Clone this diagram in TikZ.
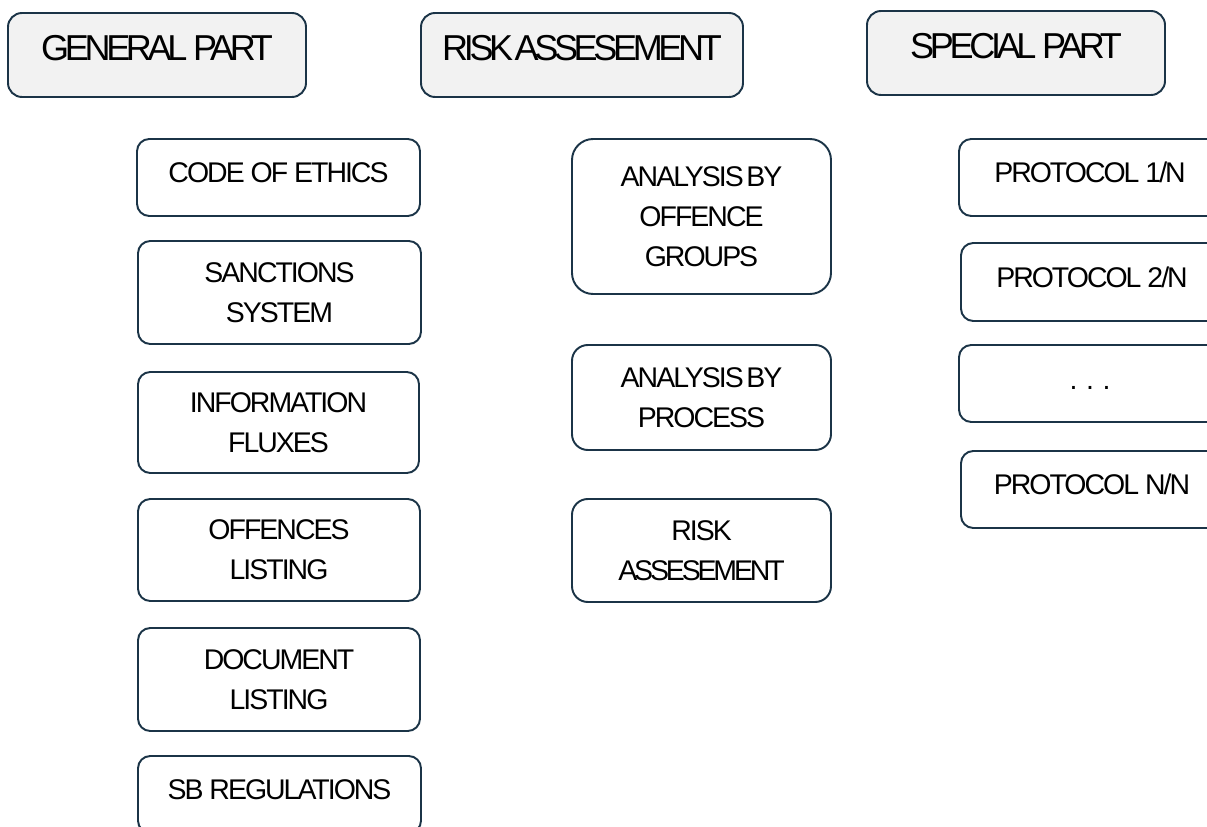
\documentclass[tikz,border=0pt]{standalone}
\usepackage{fontspec}
\newfontfamily\boxfont[LetterSpace=-7]{Liberation Sans}
\newfontfamily\headfont[LetterSpace=-12]{Liberation Sans}
\usepackage{tikz}
\usetikzlibrary{positioning}

\definecolor{edgeblue}{HTML}{1B3447}
\definecolor{headgray}{HTML}{F2F2F2}

\begin{document}
\begin{tikzpicture}[
  x=0.02cm, y=-0.02cm,
  wh/.style 2 args={minimum width=#1*0.02cm, minimum height=#2*0.02cm},
  headbox/.style={draw=edgeblue, line width=1.1pt, fill=headgray, rounded corners=8pt,
    inner sep=0pt, text depth=8pt, font=\headfont\fontsize{20.5}{24}\selectfont},
  itembox/.style={draw=edgeblue, line width=1.1pt, fill=white, rounded corners=#1,
    inner sep=0pt, align=center, font=\boxfont\fontsize{16.2}{22.7}\selectfont},
  itembox/.default=7pt,
  oneline/.style={text depth=6pt}
]
\clip (0,0) rectangle (1207,827);

% headers
\node[headbox, wh={298}{84}] (genpart) at (157, 55) {GENERAL PART};
\node[headbox, wh={322}{84}] (riskpart) at (582, 55) {RISK\hspace{-0.12em} ASSESEMENT};
\node[headbox, wh={298}{84}] (specpart) at (1016, 53) {SPECIAL PART};

% general part
\node[itembox, oneline, wh={283}{77}] (ethics) at (278.5, 177.5) {CODE OF ETHICS};
\node[itembox, wh={283}{103}] (sanctions) at (279.5, 292.5) {SANCTIONS\\SYSTEM};
\node[itembox, wh={281}{101}] (fluxes) at (278.5, 422.5) {INFORMATION\\FLUXES};
\node[itembox, wh={282}{102}] (offences) at (279, 550) {OFFENCES\\LISTING};
\node[itembox, wh={282}{103}] (documents) at (279, 679.5) {DOCUMENT\\LISTING};
\node[itembox, oneline, wh={283}{77}] (sbreg) at (279.5, 794.5) {SB REGULATIONS};

% risk assesement
\node[itembox=12pt, wh={259}{155}] (offgroups) at (701.5, 216.5) {ANALYSIS\hspace{-0.12em} BY\\OFFENCE\\GROUPS};
\node[itembox=9pt, wh={259}{105}] (process) at (701.5, 397.5) {ANALYSIS\hspace{-0.12em} BY\\PROCESS};
\node[itembox=9pt, wh={259}{103}] (riskass) at (701.5, 550.5) {RISK\\\addfontfeature{LetterSpace=-11}ASSESEMENT};

% special part
\node[itembox, oneline, wh={262}{77}] (prot1) at (1090, 177.5) {PROTOCOL 1/N};
\node[itembox, oneline, wh={262}{78}] (prot2) at (1092, 282) {PROTOCOL 2/N};
\node[itembox, text height=7pt, wh={262}{77}] (protdots) at (1090, 383.5) {.\hspace{0.3em}.\hspace{0.3em}.};
\node[itembox, oneline, wh={262}{77}] (protn) at (1092, 489.5) {PROTOCOL N/N};

\end{tikzpicture}
\end{document}
